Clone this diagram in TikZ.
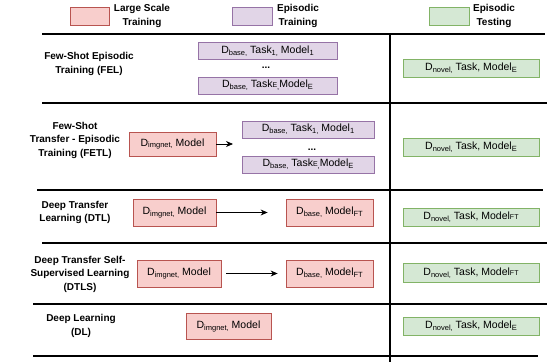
\documentclass[tikz,border=0pt]{standalone}
\usepackage{fontspec}
\setmainfont{Liberation Sans}
\usepackage{xcolor}
\usetikzlibrary{arrows.meta}
\definecolor{lsfill}{HTML}{F8CECC}
\definecolor{lsdraw}{HTML}{B85450}
\definecolor{epfill}{HTML}{E1D5E7}
\definecolor{epdraw}{HTML}{9673A6}
\definecolor{tsfill}{HTML}{D5E8D4}
\definecolor{tsdraw}{HTML}{82B366}
\newcommand{\sub}[1]{\raisebox{-0.35ex}{\fontsize{7.5}{8}\selectfont #1}}
\newcommand{\sml}[1]{{\fontsize{7}{8}\selectfont #1}}

\begin{document}
\begin{tikzpicture}[x=1pt,y=-1pt,
  box/.style={line width=0.8pt, inner sep=0pt, font=\fontsize{10.5}{12}\selectfont},
  lsbox/.style={box, draw=lsdraw, fill=lsfill},
  epbox/.style={box, draw=epdraw, fill=epfill, minimum height=17pt},
  tsbox/.style={box, draw=tsdraw, fill=tsfill, minimum width=136pt, minimum height=18pt},
  rowlabel/.style={align=center, font=\bfseries\fontsize{10}{13.5}\selectfont},
  rule/.style={line width=1.4pt},
  flow/.style={-{Stealth[length=7pt,width=6pt]}, line width=0.8pt}]
  \useasboundingbox (0,0) rectangle (555,362);

  % legend
  \node[lsbox, minimum width=39pt, minimum height=18pt] (legLS) at (89.5,16) {};
  \node[rowlabel] (legLStxt) at (142,16) {Large Scale\\Training};
  \node[epbox, minimum width=40pt, minimum height=18pt] (legEP) at (252,16) {};
  \node[rowlabel] (legEPtxt) at (298,16) {Episodic\\Training};
  \node[tsbox, minimum width=40pt] (legTS) at (449,16) {};
  \node[rowlabel] (legTStxt) at (494,16) {Episodic\\Testing};

  % table rules
  \draw[rule] (42,34) -- (545,34);
  \draw[rule] (42,103) -- (547,103);
  \draw[rule] (37,190) -- (543,190);
  \draw[rule] (42,243) -- (547,243);
  \draw[rule] (33,304) -- (547,304);
  \draw[rule] (33,356) -- (538,356);
  \draw[rule] (390,34) -- (390,362);

  % FEL
  \node[rowlabel] (felLbl) at (89,64) {Few-Shot Episodic\\Training (FEL)};
  \node[epbox, minimum width=139pt] (felA) at (267.5,51) {D\sub{base,} Task\sub{1,} Model\sub{1}};
  \node[font=\bfseries] (felDots) at (266,68) {...};
  \node[epbox, minimum width=139pt] (felB) at (267.5,85.5) {D\sub{base,} Task\sml{E}\sub{,}Model\sub{E}};
  \node[tsbox] (felT) at (471,68.5) {D\sub{novel,} Task, Model\sub{E}};

  % FETL
  \node[rowlabel] (fetlLbl) at (75,140) {Few-Shot\\Transfer - Episodic\\Training (FETL)};
  \node[lsbox, minimum width=87pt, minimum height=24pt] (fetlA) at (172.5,144) {D\sub{imgnet,} Model};
  \coordinate (fetlTip) at (233,144);
  \node[epbox, minimum width=132pt] (fetlB) at (308,129.5) {D\sub{base,} Task\sub{1,} Model\sub{1}};
  \node[font=\bfseries] (fetlDots) at (312,150) {...};
  \node[epbox, minimum width=132pt] (fetlC) at (308,164.5) {D\sub{base,} Task\sml{E}\sub{,}Model\sub{E}};
  \node[tsbox] (fetlT) at (471,147) {D\sub{novel,} Task, Model\sub{E}};
  \draw[flow] (fetlA) -- (fetlTip);

  % DTL
  \node[rowlabel] (dtlLbl) at (75,212.5) {Deep Transfer\\Learning (DTL)};
  \node[lsbox, minimum width=83pt, minimum height=27pt] (dtlA) at (174.5,212.5) {D\sub{imgnet,} Model};
  \node[lsbox, minimum width=87pt, minimum height=27pt] (dtlB) at (329.5,212.5) {D\sub{base,} Model\sub{FT}};
  \node[tsbox] (dtlT) at (471,217) {D\sub{novel,} Task, Model\sml{FT}};
  \draw[flow, shorten >=18pt] (dtlA) -- (dtlB);

  % DTLS
  \node[rowlabel] (dtlsLbl) at (80,274) {Deep Transfer Self-\\Supervised Learning\\(DTLS)};
  \node[lsbox, minimum width=84pt, minimum height=27pt] (dtlsA) at (179,273.5) {D\sub{imgnet,} Model};
  \node[lsbox, minimum width=87pt, minimum height=27pt] (dtlsB) at (329.5,273.5) {D\sub{base,} Model\sub{FT}};
  \node[tsbox, minimum height=19pt] (dtlsT) at (471,273) {D\sub{novel,} Task, Model\sml{FT}};
  \draw[flow, shorten <=5pt, shorten >=8pt] (dtlsA) -- (dtlsB);

  % DL
  \node[rowlabel] (dlLbl) at (81,326) {Deep Learning\\(DL)};
  \node[lsbox, minimum width=85pt, minimum height=26pt] (dlA) at (228.5,326) {D\sub{imgnet,} Model};
  \node[tsbox] (dlT) at (471,326) {D\sub{novel,} Task, Model\sub{E}};
\end{tikzpicture}
\end{document}
